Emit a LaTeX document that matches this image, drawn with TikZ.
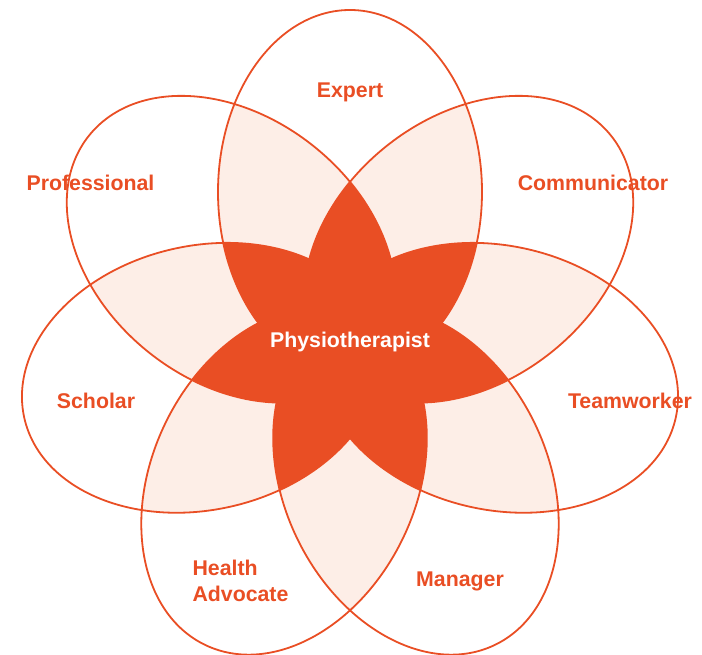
\documentclass[tikz,border=0pt]{standalone}
\usepackage{fontspec}
\setmainfont{Liberation Sans}
\definecolor{physdark}{HTML}{E94E24}
\definecolor{physlight}{HTML}{FDEEE7}
\begin{document}
\begin{tikzpicture}[x=1pt,y=1pt,
  petal/.style={shift={(350pt,310pt)}, rotate=#1},
  rolelabel/.style={text=physdark, font=\fontsize{21.3}{26}\selectfont\bfseries, inner sep=0pt},
  outline/.style={draw=physdark, line width=1.8pt}]
\useasboundingbox (0,0) rectangle (702,654);
% light: covered by two or more
\foreach \i in {0,...,6}{
  \foreach \j in {0,...,6}{
    \ifnum\j>\i
      \begin{scope}
        \path[clip, petal={90+\i*360/7}] (152pt,0pt) ellipse [x radius=182pt, y radius=132pt];
        \fill[physlight, petal={90+\j*360/7}] (152pt,0pt) ellipse [x radius=182pt, y radius=132pt];
      \end{scope}
    \fi
  }
}
% dark: covered by three or more
\foreach \i in {0,...,6}{
  \foreach \j in {0,...,6}{
    \foreach \k in {0,...,6}{
      \ifnum\j>\i \ifnum\k>\j
        \begin{scope}
          \path[clip, petal={90+\i*360/7}] (152pt,0pt) ellipse [x radius=182pt, y radius=132pt];
          \path[clip, petal={90+\j*360/7}] (152pt,0pt) ellipse [x radius=182pt, y radius=132pt];
          \fill[physdark, petal={90+\k*360/7}] (152pt,0pt) ellipse [x radius=182pt, y radius=132pt];
        \end{scope}
      \fi \fi
    }
  }
}
% outlines
\foreach \i in {0,...,6}{
  \draw[outline, petal={90+\i*360/7}] (152pt,0pt) ellipse [x radius=182pt, y radius=132pt];
}
% labels
\node[rolelabel] (expert) at (350,562) {Expert};
\node[rolelabel] (comm) at (593,471) {Communicator};
\node[rolelabel] (prof) at (90.5,471) {Professional};
\node[rolelabel] (team) at (630,253) {Teamworker};
\node[rolelabel] (scholar) at (96,253) {Scholar};
\node[rolelabel] (manager) at (460,73) {Manager};
\node[rolelabel, align=left] (health) at (240.5,73) {Health\\Advocate};
\node[rolelabel, text=white] (phys) at (350,312) {Physiotherapist};
\end{tikzpicture}
\end{document}
